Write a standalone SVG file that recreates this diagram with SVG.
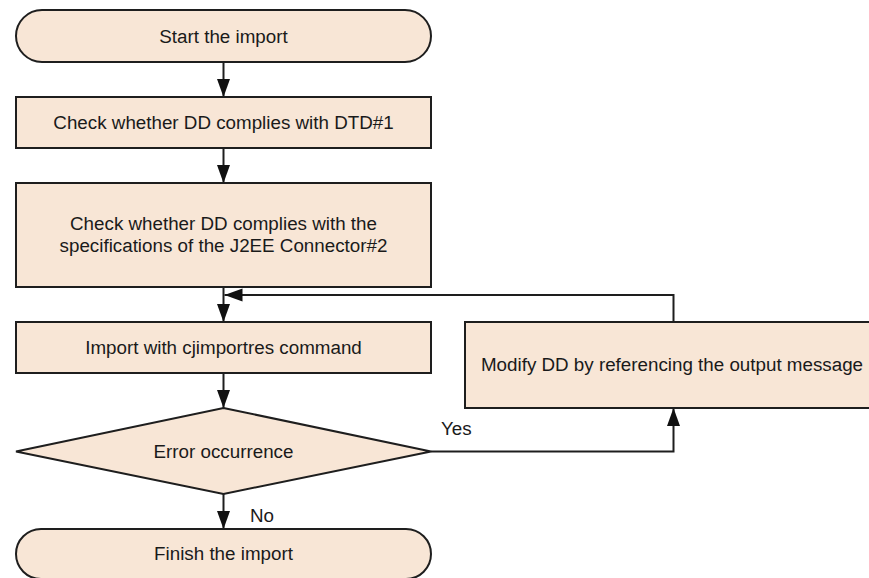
<svg xmlns="http://www.w3.org/2000/svg" width="869" height="578" viewBox="0 0 869 578">
  <style>
    .shape { fill: #F8E6D6; stroke: #1e1e1e; stroke-width: 2; }
    .line { fill: none; stroke: #1e1e1e; stroke-width: 2; }
    .lbl { font-family: "Liberation Sans", Arial, sans-serif; font-size: 18.8px; fill: #1a1a1a; text-anchor: middle; }
    .lbl-l { font-family: "Liberation Sans", Arial, sans-serif; font-size: 18.8px; fill: #1a1a1a; }
  </style>
  <defs>
    <marker id="arrow" markerUnits="userSpaceOnUse" markerWidth="20" markerHeight="14" refX="18" refY="7" orient="auto">
      <path d="M0,0.5 L18,7 L0,13.5 Z" fill="#111"/>
    </marker>
  </defs>
  <rect width="869" height="578" fill="#ffffff"/>

  <g id="connectors">
    <line class="line" x1="223.5" y1="62" x2="223.5" y2="97" marker-end="url(#arrow)"/>
    <line class="line" x1="223.5" y1="148" x2="223.5" y2="183" marker-end="url(#arrow)"/>
    <line class="line" x1="223.5" y1="287" x2="223.5" y2="322" marker-end="url(#arrow)"/>
    <line class="line" x1="223.5" y1="373" x2="223.5" y2="408" marker-end="url(#arrow)"/>
    <line class="line" x1="223.5" y1="494" x2="223.5" y2="529" marker-end="url(#arrow)"/>
    <polyline class="line" points="431,451.5 673.5,451.5 673.5,408" marker-end="url(#arrow)"/>
    <polyline class="line" points="673.5,322 673.5,295 224.5,295" marker-end="url(#arrow)"/>
    <text class="lbl-l" x="441" y="435">Yes</text>
    <text class="lbl-l" x="250" y="522">No</text>
  </g>

  <g id="start">
    <rect class="shape" x="16" y="10" width="415" height="52" rx="26" ry="26"/>
    <text class="lbl" x="223.5" y="42.5">Start the import</text>
  </g>

  <g id="check-dtd">
    <rect class="shape" x="16" y="97" width="415" height="51"/>
    <text class="lbl" x="223.5" y="129">Check whether DD complies with DTD#1</text>
  </g>

  <g id="check-j2ee">
    <rect class="shape" x="16" y="183" width="415" height="104"/>
    <text class="lbl" x="223.5" y="229.5">Check whether DD complies with the</text>
    <text class="lbl" x="223.5" y="251.5">specifications of the J2EE Connector#2</text>
  </g>

  <g id="import">
    <rect class="shape" x="16" y="322" width="415" height="51"/>
    <text class="lbl" x="223.5" y="354">Import with cjimportres command</text>
  </g>

  <g id="modify">
    <rect class="shape" x="465" y="322" width="420" height="86"/>
    <text class="lbl" x="672" y="371">Modify DD by referencing the output message</text>
  </g>

  <g id="error">
    <polygon class="shape" points="223.5,408 431,451.5 223.5,494 16,451.5"/>
    <text class="lbl" x="223.5" y="457.5">Error occurrence</text>
  </g>

  <g id="finish">
    <rect class="shape" x="16" y="529" width="415" height="50" rx="25" ry="25"/>
    <text class="lbl" x="223.5" y="560">Finish the import</text>
  </g>
</svg>
